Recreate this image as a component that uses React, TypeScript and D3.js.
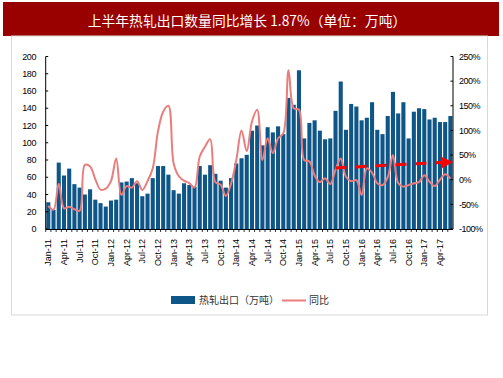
import React from "react";
import * as d3 from "d3";

const W = 503;
const H = 378;

const months: string[] = d3
  .timeMonths(new Date(2011, 0, 1), new Date(2017, 6, 1))
  .map((d) => d3.timeFormat("%b-%y")(d));

const exportVolume: number[] = [
  31, 22, 77, 62, 70, 52, 48, 40, 46, 34, 30, 26,
  33, 34, 54, 55, 59, 53, 38, 41, 59, 73, 73, 63,
  45, 41, 53, 51, 49, 73, 63, 74, 64, 56, 48, 59,
  76, 82, 86, 114, 120, 97, 118, 112, 119, 110, 152, 144,
  184, 105, 123, 126, 114, 104, 105, 137, 171, 115, 145, 142,
  126, 129, 147, 115, 110, 131, 159, 134, 147, 105, 136, 140,
  139, 127, 129, 124, 124, 131,
];

const yoyPct: number[] = [
  -53, -61, -8, -58, -55, -60, -63, 30, 27, 1, -20, -18,
  -3, 43, -31, -13, -16, -3, -21, -3, 23, 98, 138, 150,
  33, 7, -2, -7, -16, 47, 67, 82, -5, -10, -33, -8,
  40, 100, 58, 118, 142, 40, 84, 54, 84, 94, 222, 145,
  142, 40, 37, 9, -5, 3, -9, 20, 43, 6, -3, -1,
  -31, 23, 14, -7, -11, 5, 50, -7, -14, -11, -7, -5,
  9, -4, -13, 0, 11, 2,
];

const leftTicks: number[] = [0, 20, 40, 60, 80, 100, 120, 140, 160, 180, 200];
const rightTicks: number[] = [-100, -50, 0, 50, 100, 150, 200, 250];

const trendStart = { month: "Aug-15", value: 24 };
const trendEnd = { month: "Jun-17", value: 36 };

const title = "上半年热轧出口数量同比增长 1.87%（单位：万吨）";
const seriesNames = ["热轧出口（万吨）", "同比"];

const BAR = "#0E5588";
const LINE = "#EA7D7D";
const ARROW = "#FF0000";
const latin = "'Liberation Sans', Arial, sans-serif";
const cjk = "'Noto Sans CJK SC', 'Liberation Sans', sans-serif";

export default function App() {
  const left = 45.7;
  const right = 453;
  const top = 56.5;
  const bottom = 229;

  const x = d3.scaleBand<string>().domain(months).range([left, right]).paddingInner(0.22).paddingOuter(0.11);
  const yL = d3.scaleLinear().domain([0, 200]).range([bottom, top]);
  const yR = d3.scaleLinear().domain([-100, 250]).range([bottom, top]);
  const cx = (m: string) => (x(m) as number) + x.bandwidth() / 2;

  const line = d3
    .line<number>()
    .x((_, i) => cx(months[i]))
    .y((d) => yR(d))
    .curve(d3.curveCatmullRom.alpha(0.5));

  const ax0 = cx(trendStart.month);
  const ay0 = yR(trendStart.value);
  const tipX = (x(trendEnd.month) as number) + x.step() * 0.9;
  const tipY = yR(trendEnd.value);
  const headLen = 12;
  const ang = Math.atan2(tipY - ay0, tipX - ax0);
  const bx = tipX - headLen * Math.cos(ang);
  const by = tipY - headLen * Math.sin(ang);
  const hw = 6;
  const px = -Math.sin(ang) * hw;
  const py = Math.cos(ang) * hw;

  return (
    <svg width={W} height={H} style={{ position: "absolute", left: 0, top: 0, background: "#fff" }}>
      {/* title bar */}
      <rect x={3} y={2} width={496} height={34} fill="#990000" />
      <text x={247} y={25.5} textAnchor="middle" fill="#fff" fontFamily={cjk} fontSize={13.8}>
        {title}
      </text>
      {/* frame */}
      <rect x={11.5} y={36} width={476} height={279} fill="none" stroke="#d9d9d9" strokeWidth={1} />

      {/* bars */}
      {exportVolume.map((v, i) => (
        <rect key={i} x={x(months[i])} y={yL(v)} width={x.bandwidth()} height={bottom - yL(v)} fill={BAR} />
      ))}

      {/* x axis */}
      <line x1={left} x2={right} y1={bottom + 0.5} y2={bottom + 0.5} stroke="#000" strokeWidth={1} />
      {months.map((m, i) => (
        <line key={m} x1={(x(m) as number) - (x.step() * 0.11)} x2={(x(m) as number) - (x.step() * 0.11)} y1={bottom} y2={bottom + 3} stroke="#000" strokeWidth={0.8} />
      ))}
      {months.map((m, i) =>
        i % 3 === 0 ? (
          <text
            key={"l" + m}
            transform={`translate(${cx(m) + 3},${bottom + 10}) rotate(-90)`}
            textAnchor="end"
            fontFamily={latin}
            fontSize={9}
            fill="#000"
          >
            {m}
          </text>
        ) : null
      )}

      {/* left axis */}
      <line x1={left} x2={left} y1={top} y2={bottom} stroke="#000" strokeWidth={1} />
      {leftTicks.map((t) => (
        <g key={t}>
          <line x1={left} x2={left + 2.5} y1={yL(t)} y2={yL(t)} stroke="#000" />
          <text x={36} y={yL(t) + 3.2} textAnchor="end" fontFamily={latin} fontSize={9} letterSpacing={-0.4} fill="#000">
            {t}
          </text>
        </g>
      ))}

      {/* right axis */}
      <line x1={right} x2={right} y1={top} y2={bottom} stroke="#000" strokeWidth={1} />
      {rightTicks.map((t) => (
        <g key={t}>
          <line x1={right - 2.5} x2={right} y1={yR(t)} y2={yR(t)} stroke="#000" />
          <text x={459} y={yR(t) + 3.2} textAnchor="start" fontFamily={latin} fontSize={9} letterSpacing={-0.5} fill="#000">
            {t + "%"}
          </text>
        </g>
      ))}

      {/* yoy line */}
      <path d={line(yoyPct) || ""} fill="none" stroke={LINE} strokeWidth={2} strokeLinejoin="round" />

      {/* trend arrow */}
      <line x1={ax0} y1={ay0} x2={bx} y2={by} stroke={ARROW} strokeWidth={3} strokeDasharray="11 9" />
      <polygon points={`${tipX},${tipY} ${bx + px},${by + py} ${bx - px},${by - py}`} fill={ARROW} />

      {/* legend */}
      <rect x={171} y={296} width={24} height={8} fill={BAR} />
      <text x={199} y={304} fontFamily={cjk} fontSize={10} fill="#333">
        {seriesNames[0]}
      </text>
      <line x1={282} x2={306} y1={300.5} y2={300.5} stroke={LINE} strokeWidth={2} />
      <text x={309} y={304} fontFamily={cjk} fontSize={10} fill="#333">
        {seriesNames[1]}
      </text>
    </svg>
  );
}
